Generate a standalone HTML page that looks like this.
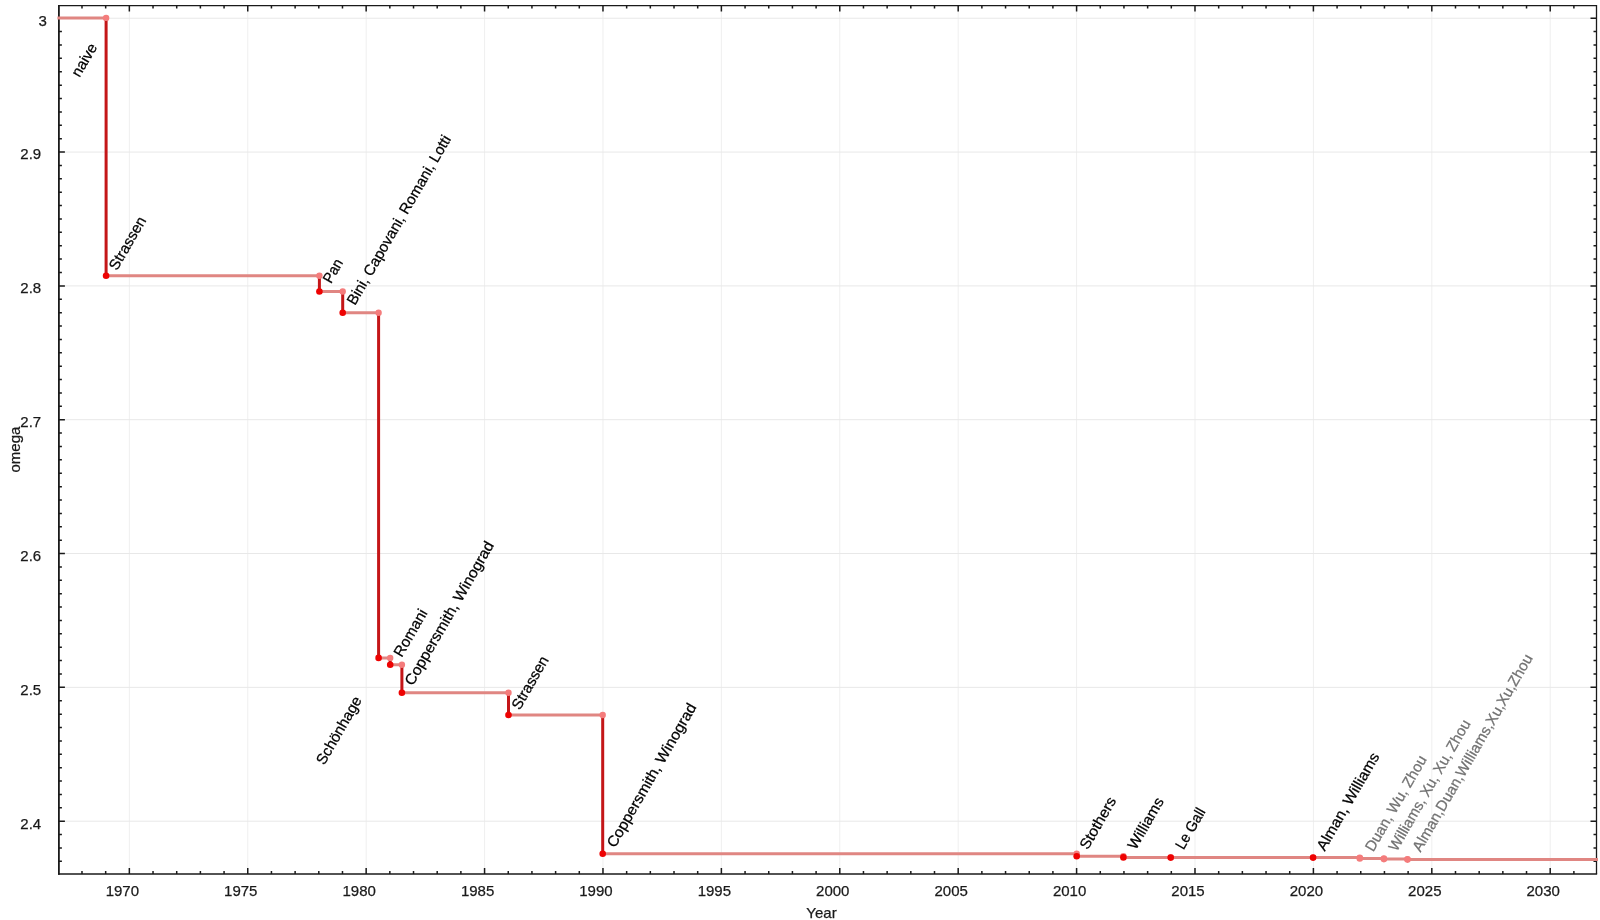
<!DOCTYPE html>
<html><head><meta charset="utf-8"><style>html,body{margin:0;padding:0;background:#fff;width:1600px;height:920px;overflow:hidden} text{stroke-width:0.25px}</style></head>
<body>
<svg width="1600" height="920" viewBox="0 0 1600 920" style="position:absolute;left:0;top:0;will-change:transform">
<rect width="1600" height="920" fill="#fff"/>
<path d="M129.35 5.6V874.1M247.75 5.6V874.1M366.16 5.6V874.1M484.57 5.6V874.1M602.97 5.6V874.1M721.38 5.6V874.1M839.78 5.6V874.1M958.19 5.6V874.1M1076.59 5.6V874.1M1194.99 5.6V874.1M1313.40 5.6V874.1M1431.81 5.6V874.1M1550.21 5.6V874.1" stroke="#efefef" stroke-width="1" fill="none"/>
<path d="M58.9 18.22H1596.5M58.9 152.05H1596.5M58.9 285.88H1596.5M58.9 419.71H1596.5M58.9 553.54H1596.5M58.9 687.37H1596.5M58.9 821.20H1596.5" stroke="#e8e8e8" stroke-width="1" fill="none"/>
<path d="M58.9 4.949999999999999V874.85" stroke="#1a1a1a" stroke-width="1.8" fill="none"/>
<path d="M58.0 874.1H1597.15" stroke="#1a1a1a" stroke-width="1.5" fill="none"/>
<path d="M58.9 5.6H1596.5V874.1" stroke="#1a1a1a" stroke-width="1.3" fill="none"/>
<path d="M81.99 874.1v-3M81.99 5.6v3M105.67 874.1v-3M105.67 5.6v3M129.35 874.1v-6M129.35 5.6v6M153.03 874.1v-3M153.03 5.6v3M176.71 874.1v-3M176.71 5.6v3M200.39 874.1v-3M200.39 5.6v3M224.07 874.1v-3M224.07 5.6v3M247.75 874.1v-6M247.75 5.6v6M271.44 874.1v-3M271.44 5.6v3M295.12 874.1v-3M295.12 5.6v3M318.80 874.1v-3M318.80 5.6v3M342.48 874.1v-3M342.48 5.6v3M366.16 874.1v-6M366.16 5.6v6M389.84 874.1v-3M389.84 5.6v3M413.52 874.1v-3M413.52 5.6v3M437.20 874.1v-3M437.20 5.6v3M460.88 874.1v-3M460.88 5.6v3M484.57 874.1v-6M484.57 5.6v6M508.25 874.1v-3M508.25 5.6v3M531.93 874.1v-3M531.93 5.6v3M555.61 874.1v-3M555.61 5.6v3M579.29 874.1v-3M579.29 5.6v3M602.97 874.1v-6M602.97 5.6v6M626.65 874.1v-3M626.65 5.6v3M650.33 874.1v-3M650.33 5.6v3M674.01 874.1v-3M674.01 5.6v3M697.69 874.1v-3M697.69 5.6v3M721.38 874.1v-6M721.38 5.6v6M745.06 874.1v-3M745.06 5.6v3M768.74 874.1v-3M768.74 5.6v3M792.42 874.1v-3M792.42 5.6v3M816.10 874.1v-3M816.10 5.6v3M839.78 874.1v-6M839.78 5.6v6M863.46 874.1v-3M863.46 5.6v3M887.14 874.1v-3M887.14 5.6v3M910.82 874.1v-3M910.82 5.6v3M934.50 874.1v-3M934.50 5.6v3M958.19 874.1v-6M958.19 5.6v6M981.87 874.1v-3M981.87 5.6v3M1005.55 874.1v-3M1005.55 5.6v3M1029.23 874.1v-3M1029.23 5.6v3M1052.91 874.1v-3M1052.91 5.6v3M1076.59 874.1v-6M1076.59 5.6v6M1100.27 874.1v-3M1100.27 5.6v3M1123.95 874.1v-3M1123.95 5.6v3M1147.63 874.1v-3M1147.63 5.6v3M1171.31 874.1v-3M1171.31 5.6v3M1194.99 874.1v-6M1194.99 5.6v6M1218.68 874.1v-3M1218.68 5.6v3M1242.36 874.1v-3M1242.36 5.6v3M1266.04 874.1v-3M1266.04 5.6v3M1289.72 874.1v-3M1289.72 5.6v3M1313.40 874.1v-6M1313.40 5.6v6M1337.08 874.1v-3M1337.08 5.6v3M1360.76 874.1v-3M1360.76 5.6v3M1384.44 874.1v-3M1384.44 5.6v3M1408.12 874.1v-3M1408.12 5.6v3M1431.81 874.1v-6M1431.81 5.6v6M1455.49 874.1v-3M1455.49 5.6v3M1479.17 874.1v-3M1479.17 5.6v3M1502.85 874.1v-3M1502.85 5.6v3M1526.53 874.1v-3M1526.53 5.6v3M1550.21 874.1v-6M1550.21 5.6v6M1573.89 874.1v-3M1573.89 5.6v3M58.9 18.22h6M1596.5 18.22h-6M58.9 31.60h3M1596.5 31.60h-3M58.9 44.99h3M1596.5 44.99h-3M58.9 58.37h3M1596.5 58.37h-3M58.9 71.75h3M1596.5 71.75h-3M58.9 85.13h3M1596.5 85.13h-3M58.9 98.52h3M1596.5 98.52h-3M58.9 111.90h3M1596.5 111.90h-3M58.9 125.28h3M1596.5 125.28h-3M58.9 138.67h3M1596.5 138.67h-3M58.9 152.05h6M1596.5 152.05h-6M58.9 165.43h3M1596.5 165.43h-3M58.9 178.82h3M1596.5 178.82h-3M58.9 192.20h3M1596.5 192.20h-3M58.9 205.58h3M1596.5 205.58h-3M58.9 218.96h3M1596.5 218.96h-3M58.9 232.35h3M1596.5 232.35h-3M58.9 245.73h3M1596.5 245.73h-3M58.9 259.11h3M1596.5 259.11h-3M58.9 272.50h3M1596.5 272.50h-3M58.9 285.88h6M1596.5 285.88h-6M58.9 299.26h3M1596.5 299.26h-3M58.9 312.65h3M1596.5 312.65h-3M58.9 326.03h3M1596.5 326.03h-3M58.9 339.41h3M1596.5 339.41h-3M58.9 352.79h3M1596.5 352.79h-3M58.9 366.18h3M1596.5 366.18h-3M58.9 379.56h3M1596.5 379.56h-3M58.9 392.94h3M1596.5 392.94h-3M58.9 406.33h3M1596.5 406.33h-3M58.9 419.71h6M1596.5 419.71h-6M58.9 433.09h3M1596.5 433.09h-3M58.9 446.48h3M1596.5 446.48h-3M58.9 459.86h3M1596.5 459.86h-3M58.9 473.24h3M1596.5 473.24h-3M58.9 486.63h3M1596.5 486.63h-3M58.9 500.01h3M1596.5 500.01h-3M58.9 513.39h3M1596.5 513.39h-3M58.9 526.77h3M1596.5 526.77h-3M58.9 540.16h3M1596.5 540.16h-3M58.9 553.54h6M1596.5 553.54h-6M58.9 566.92h3M1596.5 566.92h-3M58.9 580.31h3M1596.5 580.31h-3M58.9 593.69h3M1596.5 593.69h-3M58.9 607.07h3M1596.5 607.07h-3M58.9 620.46h3M1596.5 620.46h-3M58.9 633.84h3M1596.5 633.84h-3M58.9 647.22h3M1596.5 647.22h-3M58.9 660.60h3M1596.5 660.60h-3M58.9 673.99h3M1596.5 673.99h-3M58.9 687.37h6M1596.5 687.37h-6M58.9 700.75h3M1596.5 700.75h-3M58.9 714.14h3M1596.5 714.14h-3M58.9 727.52h3M1596.5 727.52h-3M58.9 740.90h3M1596.5 740.90h-3M58.9 754.28h3M1596.5 754.28h-3M58.9 767.67h3M1596.5 767.67h-3M58.9 781.05h3M1596.5 781.05h-3M58.9 794.43h3M1596.5 794.43h-3M58.9 807.82h3M1596.5 807.82h-3M58.9 821.20h6M1596.5 821.20h-6M58.9 834.58h3M1596.5 834.58h-3M58.9 847.97h3M1596.5 847.97h-3M58.9 861.35h3M1596.5 861.35h-3" stroke="#1a1a1a" stroke-width="1.5" fill="none"/>
<path d="M58.9 17.92H106.10M106.10 275.80H319.40M319.40 291.50H342.70M342.70 312.70H378.60M378.60 657.90H390.20M390.20 664.80H401.90M401.90 692.80H508.50M508.50 715.00H602.70M602.70 853.70H1076.70M1076.70 856.20H1123.40M1123.40 857.40H1170.70M1170.70 857.60H1313.10M1313.10 857.60H1359.80M1359.80 858.40H1383.90M1383.90 859.10H1407.50M1407.50 859.60H1596.50" stroke="#e08682" stroke-width="3" fill="none" stroke-linecap="square"/>
<path d="M106.10 17.92V275.80M319.40 275.80V291.50M342.70 291.50V312.70M378.60 312.70V657.90M390.20 657.90V664.80M401.90 664.80V692.80M508.50 692.80V715.00M602.70 715.00V853.70" stroke="#c41618" stroke-width="3" fill="none"/>
<circle cx="106.10" cy="17.92" r="3.2" fill="#f47c7c"/>
<circle cx="319.40" cy="275.80" r="3.2" fill="#f47c7c"/>
<circle cx="342.70" cy="291.50" r="3.2" fill="#f47c7c"/>
<circle cx="378.60" cy="312.70" r="3.2" fill="#f47c7c"/>
<circle cx="390.20" cy="657.90" r="3.2" fill="#f47c7c"/>
<circle cx="401.90" cy="664.80" r="3.2" fill="#f47c7c"/>
<circle cx="508.50" cy="692.80" r="3.2" fill="#f47c7c"/>
<circle cx="602.70" cy="715.00" r="3.2" fill="#f47c7c"/>
<circle cx="1076.70" cy="853.70" r="3.2" fill="#f47c7c"/>
<circle cx="1123.40" cy="856.20" r="3.2" fill="#f47c7c"/>
<circle cx="1170.70" cy="857.40" r="3.2" fill="#f47c7c"/>
<circle cx="1313.10" cy="857.60" r="3.2" fill="#f47c7c"/>
<circle cx="1359.80" cy="857.60" r="3.2" fill="#f47c7c"/>
<circle cx="1383.90" cy="858.40" r="3.2" fill="#f47c7c"/>
<circle cx="1407.50" cy="859.10" r="3.2" fill="#f47c7c"/>
<circle cx="106.10" cy="275.80" r="3.3" fill="#ee0202"/>
<circle cx="319.40" cy="291.50" r="3.3" fill="#ee0202"/>
<circle cx="342.70" cy="312.70" r="3.3" fill="#ee0202"/>
<circle cx="378.60" cy="657.90" r="3.3" fill="#ee0202"/>
<circle cx="390.20" cy="664.80" r="3.3" fill="#ee0202"/>
<circle cx="401.90" cy="692.80" r="3.3" fill="#ee0202"/>
<circle cx="508.50" cy="715.00" r="3.3" fill="#ee0202"/>
<circle cx="602.70" cy="853.70" r="3.3" fill="#ee0202"/>
<circle cx="1076.70" cy="856.20" r="3.3" fill="#ee0202"/>
<circle cx="1123.40" cy="857.40" r="3.3" fill="#ee0202"/>
<circle cx="1170.70" cy="857.60" r="3.3" fill="#ee0202"/>
<circle cx="1313.10" cy="857.60" r="3.3" fill="#ee0202"/>
<circle cx="1359.80" cy="858.40" r="3.3" fill="#f47c7c"/>
<circle cx="1383.90" cy="859.10" r="3.3" fill="#f47c7c"/>
<circle cx="1407.50" cy="859.60" r="3.3" fill="#f47c7c"/>
<text x="122.35" y="896" font-family="Liberation Sans, sans-serif" font-size="15" text-anchor="middle" fill="#1a1a1a" stroke="#1a1a1a">1970</text>
<text x="240.75" y="896" font-family="Liberation Sans, sans-serif" font-size="15" text-anchor="middle" fill="#1a1a1a" stroke="#1a1a1a">1975</text>
<text x="359.16" y="896" font-family="Liberation Sans, sans-serif" font-size="15" text-anchor="middle" fill="#1a1a1a" stroke="#1a1a1a">1980</text>
<text x="477.57" y="896" font-family="Liberation Sans, sans-serif" font-size="15" text-anchor="middle" fill="#1a1a1a" stroke="#1a1a1a">1985</text>
<text x="595.97" y="896" font-family="Liberation Sans, sans-serif" font-size="15" text-anchor="middle" fill="#1a1a1a" stroke="#1a1a1a">1990</text>
<text x="714.38" y="896" font-family="Liberation Sans, sans-serif" font-size="15" text-anchor="middle" fill="#1a1a1a" stroke="#1a1a1a">1995</text>
<text x="832.78" y="896" font-family="Liberation Sans, sans-serif" font-size="15" text-anchor="middle" fill="#1a1a1a" stroke="#1a1a1a">2000</text>
<text x="951.19" y="896" font-family="Liberation Sans, sans-serif" font-size="15" text-anchor="middle" fill="#1a1a1a" stroke="#1a1a1a">2005</text>
<text x="1069.59" y="896" font-family="Liberation Sans, sans-serif" font-size="15" text-anchor="middle" fill="#1a1a1a" stroke="#1a1a1a">2010</text>
<text x="1187.99" y="896" font-family="Liberation Sans, sans-serif" font-size="15" text-anchor="middle" fill="#1a1a1a" stroke="#1a1a1a">2015</text>
<text x="1306.40" y="896" font-family="Liberation Sans, sans-serif" font-size="15" text-anchor="middle" fill="#1a1a1a" stroke="#1a1a1a">2020</text>
<text x="1424.81" y="896" font-family="Liberation Sans, sans-serif" font-size="15" text-anchor="middle" fill="#1a1a1a" stroke="#1a1a1a">2025</text>
<text x="1543.21" y="896" font-family="Liberation Sans, sans-serif" font-size="15" text-anchor="middle" fill="#1a1a1a" stroke="#1a1a1a">2030</text>
<text x="46.9" y="25.52" font-family="Liberation Sans, sans-serif" font-size="15" text-anchor="end" fill="#1a1a1a" stroke="#1a1a1a">3</text>
<text x="41.2" y="159.35" font-family="Liberation Sans, sans-serif" font-size="15" text-anchor="end" fill="#1a1a1a" stroke="#1a1a1a">2.9</text>
<text x="41.2" y="293.18" font-family="Liberation Sans, sans-serif" font-size="15" text-anchor="end" fill="#1a1a1a" stroke="#1a1a1a">2.8</text>
<text x="41.2" y="427.01" font-family="Liberation Sans, sans-serif" font-size="15" text-anchor="end" fill="#1a1a1a" stroke="#1a1a1a">2.7</text>
<text x="41.2" y="560.84" font-family="Liberation Sans, sans-serif" font-size="15" text-anchor="end" fill="#1a1a1a" stroke="#1a1a1a">2.6</text>
<text x="41.2" y="694.67" font-family="Liberation Sans, sans-serif" font-size="15" text-anchor="end" fill="#1a1a1a" stroke="#1a1a1a">2.5</text>
<text x="41.2" y="828.50" font-family="Liberation Sans, sans-serif" font-size="15" text-anchor="end" fill="#1a1a1a" stroke="#1a1a1a">2.4</text>
<text x="821.5" y="917.8" font-family="Liberation Sans, sans-serif" font-size="15" text-anchor="middle" fill="#1a1a1a" stroke="#1a1a1a">Year</text>
<text transform="translate(20.2 449.6) rotate(-90)" font-family="Liberation Sans, sans-serif" font-size="15" text-anchor="middle" fill="#1a1a1a" stroke="#1a1a1a">omega</text>
<text transform="translate(79.60 78.12) rotate(-60)" font-family="Liberation Sans, sans-serif" font-size="15" fill="#000" stroke="#000" textLength="36.0" lengthAdjust="spacingAndGlyphs">naive</text>
<text transform="translate(117.10 271.22) rotate(-60)" font-family="Liberation Sans, sans-serif" font-size="15" fill="#000" stroke="#000" textLength="58.9" lengthAdjust="spacingAndGlyphs">Strassen</text>
<text transform="translate(331.00 284.22) rotate(-60)" font-family="Liberation Sans, sans-serif" font-size="15" fill="#000" stroke="#000" textLength="25.1" lengthAdjust="spacingAndGlyphs">Pan</text>
<text transform="translate(355.00 305.92) rotate(-60)" font-family="Liberation Sans, sans-serif" font-size="15" fill="#000" stroke="#000" textLength="192.8" lengthAdjust="spacingAndGlyphs">Bini, Capovani, Romani, Lotti</text>
<text transform="translate(401.70 658.02) rotate(-60)" font-family="Liberation Sans, sans-serif" font-size="15" fill="#000" stroke="#000" textLength="52.3" lengthAdjust="spacingAndGlyphs">Romani</text>
<text transform="translate(412.80 686.52) rotate(-60)" font-family="Liberation Sans, sans-serif" font-size="15" fill="#000" stroke="#000" textLength="163.3" lengthAdjust="spacingAndGlyphs">Coppersmith, Winograd</text>
<text transform="translate(324.20 765.82) rotate(-60)" font-family="Liberation Sans, sans-serif" font-size="15" fill="#000" stroke="#000" textLength="76.1" lengthAdjust="spacingAndGlyphs">Schönhage</text>
<text transform="translate(519.70 710.72) rotate(-60)" font-family="Liberation Sans, sans-serif" font-size="15" fill="#000" stroke="#000" textLength="58.9" lengthAdjust="spacingAndGlyphs">Strassen</text>
<text transform="translate(615.00 848.62) rotate(-60)" font-family="Liberation Sans, sans-serif" font-size="15" fill="#000" stroke="#000" textLength="163.6" lengthAdjust="spacingAndGlyphs">Coppersmith, Winograd</text>
<text transform="translate(1087.80 850.62) rotate(-60)" font-family="Liberation Sans, sans-serif" font-size="15" fill="#000" stroke="#000" textLength="57.7" lengthAdjust="spacingAndGlyphs">Stothers</text>
<text transform="translate(1135.80 850.62) rotate(-60)" font-family="Liberation Sans, sans-serif" font-size="15" fill="#000" stroke="#000" textLength="57.1" lengthAdjust="spacingAndGlyphs">Williams</text>
<text transform="translate(1183.40 850.52) rotate(-60)" font-family="Liberation Sans, sans-serif" font-size="15" fill="#000" stroke="#000" textLength="44.9" lengthAdjust="spacingAndGlyphs">Le Gall</text>
<text transform="translate(1324.70 851.82) rotate(-60)" font-family="Liberation Sans, sans-serif" font-size="15" fill="#000" stroke="#000" textLength="110.2" lengthAdjust="spacingAndGlyphs">Alman, Williams</text>
<text transform="translate(1373.20 852.62) rotate(-60)" font-family="Liberation Sans, sans-serif" font-size="15" fill="#727272" stroke="#727272" textLength="107.9" lengthAdjust="spacingAndGlyphs">Duan, Wu, Zhou</text>
<text transform="translate(1396.70 852.22) rotate(-60)" font-family="Liberation Sans, sans-serif" font-size="15" fill="#727272" stroke="#727272" textLength="148.7" lengthAdjust="spacingAndGlyphs">Williams, Xu, Xu, Zhou</text>
<text transform="translate(1420.60 852.72) rotate(-60)" font-family="Liberation Sans, sans-serif" font-size="15" fill="#727272" stroke="#727272" textLength="225.0" lengthAdjust="spacingAndGlyphs">Alman,Duan,Williams,Xu,Xu,Zhou</text>
</svg>
</body></html>
